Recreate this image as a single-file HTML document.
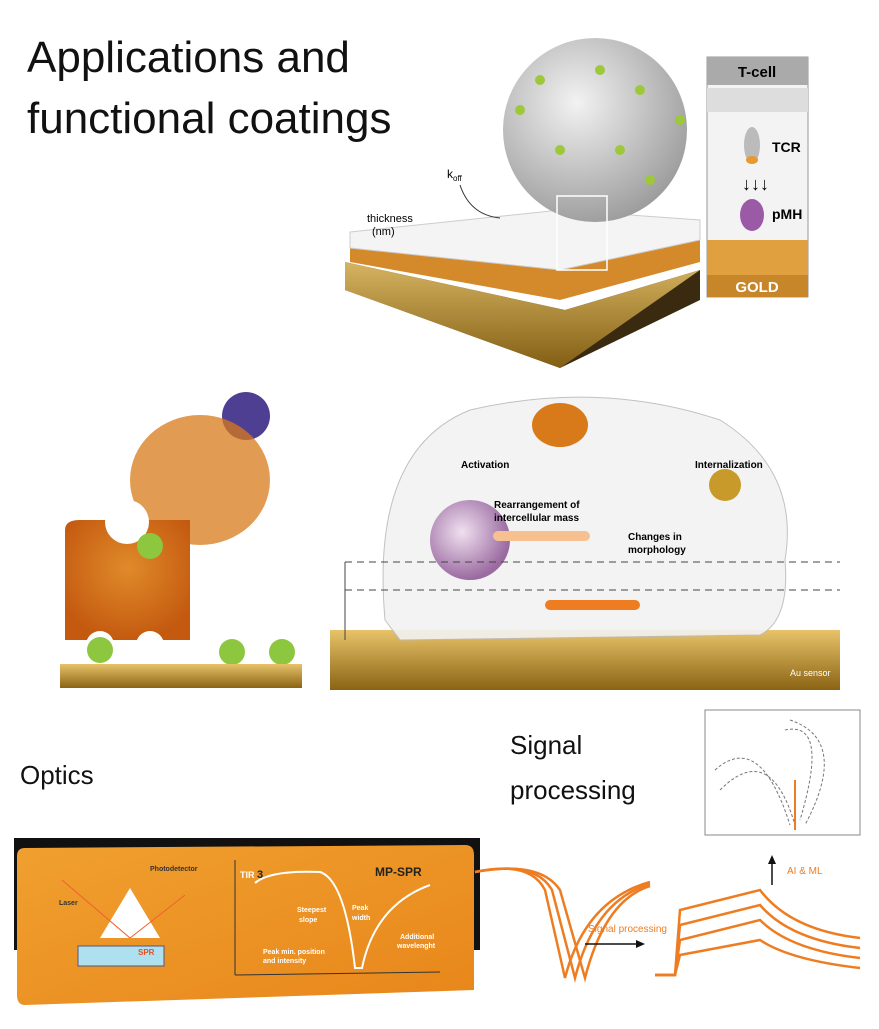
<!DOCTYPE html>
<html><head><meta charset="utf-8"><style>
body{margin:0;width:879px;height:1024px;background:#fff;overflow:hidden;font-family:"Liberation Sans",sans-serif}
</style></head><body>
<svg width="879" height="1024" viewBox="0 0 879 1024" xmlns="http://www.w3.org/2000/svg" font-family="Liberation Sans, sans-serif">
<defs>
<radialGradient id="cell" cx="0.4" cy="0.35" r="0.7"><stop offset="0" stop-color="#f2f2f2"/><stop offset="1" stop-color="#9a9a9a"/></radialGradient>
<linearGradient id="gold" x1="0" y1="0" x2="0" y2="1"><stop offset="0" stop-color="#e8c36a"/><stop offset="1" stop-color="#8a6414"/></linearGradient>
<linearGradient id="orng" x1="0" y1="0" x2="1" y2="1"><stop offset="0" stop-color="#f0a030"/><stop offset="1" stop-color="#e8861a"/></linearGradient>
<radialGradient id="blk" cx="0.5" cy="0.4" r="0.6"><stop offset="0" stop-color="#e08a2a"/><stop offset="1" stop-color="#c45a10"/></radialGradient>
<radialGradient id="pur" cx="0.4" cy="0.4" r="0.6"><stop offset="0" stop-color="#f0e0f0"/><stop offset="1" stop-color="#9a6aa0"/></radialGradient>
</defs>
<text x="27" y="72" font-size="44" fill="#111">Applications and</text>
<text x="27" y="133" font-size="44" fill="#111">functional coatings</text>
<!-- top slab -->
<polygon points="345,262 565,310 700,270 700,300 560,368 345,290" fill="#3a2a10"/>
<polygon points="345,262 565,310 700,270 560,368 345,290" fill="url(#gold)" opacity="0.9"/>
<polygon points="350,238 560,215 700,225 700,262 560,300 350,262" fill="#d48a2a"/>
<polygon points="350,232 560,210 700,220 700,240 560,270 350,248" fill="#f4f4f4" stroke="#ccc"/>
<circle cx="595" cy="130" r="92" fill="url(#cell)"/>
<g fill="#9cc83a"><circle cx="540" cy="80" r="5"/><circle cx="600" cy="70" r="5"/><circle cx="640" cy="90" r="5"/><circle cx="560" cy="150" r="5"/><circle cx="620" cy="150" r="5"/><circle cx="650" cy="180" r="5"/><circle cx="520" cy="110" r="5"/><circle cx="680" cy="120" r="5"/></g>
<rect x="557" y="196" width="50" height="74" fill="none" stroke="#fff" stroke-width="1.5"/>
<text x="447" y="178" font-size="12">k<tspan font-size="8" dy="3">off</tspan></text>
<path d="M460,185 Q470,215 500,218" stroke="#333" fill="none"/>
<text x="367" y="222" font-size="11">thickness</text><text x="372" y="235" font-size="11">(nm)</text>
<!-- T-cell panel -->
<rect x="707" y="57" width="101" height="240" fill="#f3f3f3" stroke="#999"/>
<rect x="707" y="57" width="101" height="28" fill="#aaa"/>
<text x="757" y="77" font-size="15" font-weight="bold" text-anchor="middle">T-cell</text>
<rect x="707" y="88" width="101" height="24" fill="#ddd"/>
<ellipse cx="752" cy="145" rx="8" ry="18" fill="#bbb"/><ellipse cx="752" cy="160" rx="6" ry="4" fill="#e89a30"/>
<text x="772" y="152" font-size="14" font-weight="bold">TCR</text>
<text x="742" y="190" font-size="18">↓↓↓</text>
<ellipse cx="752" cy="215" rx="12" ry="16" fill="#9a5aa6"/>
<text x="772" y="219" font-size="14" font-weight="bold">pMH</text>
<rect x="707" y="240" width="101" height="35" fill="#e0a040"/>
<rect x="707" y="275" width="101" height="22" fill="#c8862a"/>
<text x="757" y="292" font-size="15" font-weight="bold" fill="#fff" text-anchor="middle">GOLD</text>
<!-- middle left -->
<circle cx="246" cy="416" r="24" fill="#4f3f93"/>
<ellipse cx="200" cy="480" rx="70" ry="65" fill="#d87a1a" opacity="0.75"/>
<path d="M65,530 Q65,520 80,520 L190,520 L190,640 L65,640 Z" fill="url(#blk)"/>
<circle cx="127" cy="522" r="22" fill="#fff"/>
<circle cx="100" cy="645" r="14" fill="#fff"/><circle cx="150" cy="645" r="14" fill="#fff"/>
<circle cx="150" cy="546" r="13" fill="#8dc63f"/><circle cx="100" cy="650" r="13" fill="#8dc63f"/>
<circle cx="232" cy="652" r="13" fill="#8dc63f"/><circle cx="282" cy="652" r="13" fill="#8dc63f"/>
<rect x="60" y="664" width="242" height="24" fill="url(#gold)"/>
<!-- middle right -->
<rect x="330" y="630" width="510" height="60" fill="url(#gold)"/>
<path d="M385,620 Q370,450 470,410 Q600,380 720,420 Q800,470 785,560 Q790,620 760,635 L400,640 Z" fill="#f2f2f2" stroke="#bbb" opacity="0.9"/>
<circle cx="470" cy="540" r="40" fill="url(#pur)"/>
<ellipse cx="560" cy="425" rx="28" ry="22" fill="#d87a1a"/>
<circle cx="725" cy="485" r="16" fill="#c89a2a"/>
<rect x="493" y="531" width="97" height="10" rx="5" fill="#f6c090"/>
<rect x="545" y="600" width="95" height="10" rx="5" fill="#ee7d22"/>
<line x1="345" y1="562" x2="840" y2="562" stroke="#444" stroke-dasharray="7,5"/>
<line x1="345" y1="590" x2="840" y2="590" stroke="#444" stroke-dasharray="7,5"/>
<path d="M345,562 L345,640" stroke="#444"/>
<text x="461" y="468" font-size="10" font-weight="bold">Activation</text>
<text x="695" y="468" font-size="10" font-weight="bold">Internalization</text>
<text x="494" y="508" font-size="10" font-weight="bold">Rearrangement of</text>
<text x="494" y="521" font-size="10" font-weight="bold">intercellular mass</text>
<text x="628" y="540" font-size="10" font-weight="bold">Changes in</text>
<text x="628" y="553" font-size="10" font-weight="bold">morphology</text>
<text x="790" y="676" font-size="9" fill="#fff">Au sensor</text>
<!-- texts -->
<text x="20" y="784" font-size="26" fill="#111">Optics</text>
<text x="510" y="754" font-size="26" fill="#111">Signal</text>
<text x="510" y="799" font-size="26" fill="#111">processing</text>
<!-- optics card -->
<rect x="14" y="838" width="466" height="112" fill="#111"/>
<path d="M25,848 L465,845 Q474,845 474,855 L474,990 L25,1005 Q17,1005 17,995 L17,856 Q17,848 25,848 Z" fill="url(#orng)"/>
<polygon points="100,938 130,888 160,938" fill="#fff"/>
<rect x="78" y="946" width="86" height="20" fill="#aee0f0" stroke="#557"/>
<text x="59" y="905" font-size="7" font-weight="bold" fill="#333">Laser</text>
<text x="150" y="871" font-size="7" font-weight="bold" fill="#333">Photodetector</text>
<text x="138" y="955" font-size="8" font-weight="bold" fill="#e85020">SPR</text>
<line x1="62" y1="880" x2="130" y2="938" stroke="#f06030"/><line x1="130" y1="938" x2="185" y2="895" stroke="#f06030"/>
<line x1="235" y1="860" x2="235" y2="975" stroke="#333"/><line x1="235" y1="975" x2="440" y2="972" stroke="#333"/>
<path d="M255,883 Q270,870 320,872 Q345,880 355,968 L362,968 Q375,905 430,885" stroke="#fff" stroke-width="2" fill="none"/>
<text x="240" y="878" font-size="9" font-weight="bold" fill="#fff">TIR <tspan fill="#222" font-size="11">3</tspan></text>
<text x="375" y="876" font-size="12" font-weight="bold" fill="#222">MP-SPR</text>
<text x="297" y="912" font-size="7" font-weight="bold" fill="#fff">Steepest</text><text x="299" y="922" font-size="7" font-weight="bold" fill="#fff">slope</text>
<text x="352" y="910" font-size="7" font-weight="bold" fill="#fff">Peak</text><text x="352" y="920" font-size="7" font-weight="bold" fill="#fff">width</text>
<text x="263" y="954" font-size="7" font-weight="bold" fill="#fff">Peak min. position</text><text x="263" y="963" font-size="7" font-weight="bold" fill="#fff">and intensity</text>
<text x="400" y="939" font-size="7" font-weight="bold" fill="#fff">Additional</text><text x="397" y="948" font-size="7" font-weight="bold" fill="#fff">wavelenght</text>
<!-- signal processing -->
<g stroke="#ee7d22" stroke-width="2.5" fill="none">
<path d="M475,872 Q530,860 545,890 L565,978 Q585,900 650,882"/>
<path d="M475,872 Q535,860 552,890 L575,978 Q595,900 650,884"/>
<path d="M475,872 Q540,860 560,890 L585,978 Q605,900 650,886"/>
<path d="M655,975 L675,975 L680,910 L760,890 Q790,930 860,938"/>
<path d="M655,975 L675,975 L680,925 L760,905 Q790,940 860,948"/>
<path d="M655,975 L675,975 L680,940 L760,920 Q790,950 860,958"/>
<path d="M655,975 L675,975 L680,955 L760,940 Q790,960 860,968"/>
</g>
<text x="588" y="932" font-size="10" fill="#ee7d22">Signal processing</text>
<line x1="585" y1="944" x2="640" y2="944" stroke="#111" stroke-width="1.5"/><polygon points="645,944 636,940 636,948" fill="#111"/>
<line x1="772" y1="885" x2="772" y2="862" stroke="#111" stroke-width="1.5"/><polygon points="772,855 768,864 776,864" fill="#111"/>
<text x="787" y="874" font-size="10" fill="#ee7d22">AI &amp; ML</text>
<rect x="705" y="710" width="155" height="125" fill="#fff" stroke="#888"/>
<g stroke="#777" fill="none" stroke-dasharray="3,2"><path d="M715,770 Q760,730 790,825"/><path d="M720,790 Q770,740 795,825"/><path d="M785,730 Q830,720 800,820"/><path d="M790,720 Q850,740 805,825"/></g>
<line x1="795" y1="780" x2="795" y2="830" stroke="#ee7d22" stroke-width="2"/>
</svg>
</body></html>
